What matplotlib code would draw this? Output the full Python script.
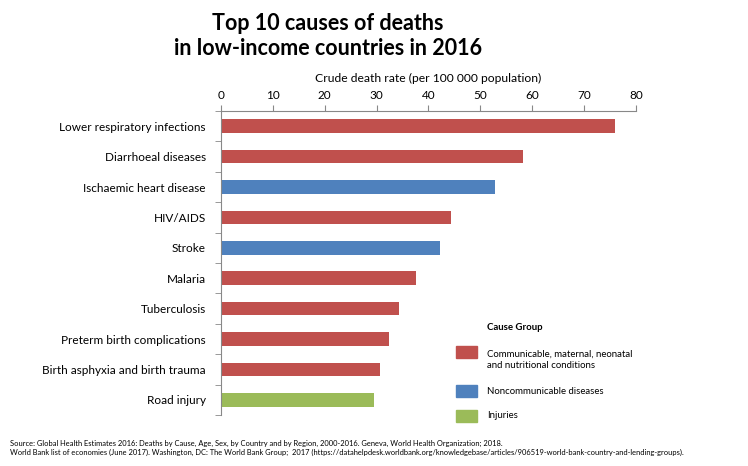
import matplotlib.pyplot as plt
from matplotlib.patches import Rectangle

causes = ['Lower respiratory infections', 'Diarrhoeal diseases', 'Ischaemic heart disease',
          'HIV/AIDS', 'Stroke', 'Malaria', 'Tuberculosis', 'Preterm birth complications',
          'Birth asphyxia and birth trauma', 'Road injury']
rates = [75.9, 58.2, 52.8, 44.3, 42.2, 37.6, 34.3, 32.4, 30.6, 29.5]
groups = ['C', 'C', 'N', 'C', 'N', 'C', 'C', 'C', 'C', 'I']

group_names = {'C': 'Communicable, maternal, neonatal\nand nutritional conditions',
               'N': 'Noncommunicable diseases',
               'I': 'Injuries'}
group_colors = {'C': '#C0504D', 'N': '#4F81BD', 'I': '#9BBB59'}

plt.rcParams['font.family'] = ['Lato', 'DejaVu Sans']

fig = plt.figure(figsize=(7.48, 4.66), dpi=100)
ax = fig.add_axes([0.2955, 0.1094, 0.5545, 0.6524])

ypos = list(range(len(causes)))
ax.barh(ypos, rates, height=0.45, color=[group_colors[g] for g in groups])
ax.set_ylim(len(causes) - 0.5, -0.5)
ax.set_xlim(0, 80)
ax.set_xticks(range(0, 81, 10))
ax.xaxis.tick_top()
ax.xaxis.set_label_position('top')
ax.set_xlabel('Crude death rate (per 100 000 population)', fontsize=8.7, labelpad=6)
ax.tick_params(axis='x', labelsize=8.5, length=4, color='#888888', pad=3)

ax.set_yticks(ypos)
ax.set_yticklabels(causes, fontsize=8.5)
ax.tick_params(axis='y', length=0, pad=11)
ax.set_yticks([i + 0.5 for i in range(-1, len(causes))], minor=True)
ax.tick_params(axis='y', which='minor', length=4, color='#888888')

for s in ['right', 'bottom']:
    ax.spines[s].set_visible(False)
for s in ['top', 'left']:
    ax.spines[s].set_color('#888888')
    ax.spines[s].set_linewidth(0.8)

fig.text(0.438, 0.972, 'Top 10 causes of deaths\nin low-income countries in 2016',
         ha='center', va='top', fontsize=15.5, fontweight='bold', linespacing=1.25)

# legend
fig.text(487 / 748, 1 - 328 / 466, 'Cause Group', fontsize=6.9, fontweight='bold', va='center')
leg_y = [352, 391, 416]
for key, y in zip(['C', 'N', 'I'], leg_y):
    fig.patches.append(Rectangle((456 / 748, 1 - (y + 6) / 466), 21 / 748, 12 / 466,
                                 color=group_colors[key], transform=fig.transFigure))
    ty = y + 8 if key == 'C' else y
    fig.text(487 / 748, 1 - ty / 466, group_names[key], fontsize=6.9, va='center', linespacing=1.4)

fig.text(10 / 748, 1 - 443 / 466,
         'Source: Global Health Estimates 2016: Deaths by Cause, Age, Sex, by Country and by Region, 2000-2016. Geneva, World Health Organization; 2018.',
         fontsize=5.4, va='center')
fig.text(10 / 748, 1 - 452 / 466,
         'World Bank list of economies (June 2017). Washington, DC: The World Bank Group;  2017 (https://datahelpdesk.worldbank.org/knowledgebase/articles/906519-world-bank-country-and-lending-groups).',
         fontsize=5.4, va='center')

fig.savefig('out.png', dpi=100)
